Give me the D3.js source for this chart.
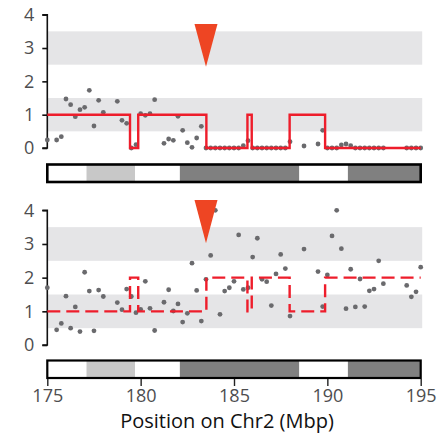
<!DOCTYPE html>
<html>
<head>
<meta charset="utf-8">
<script src="https://cdn.jsdelivr.net/npm/d3@7"></script>
<style>
  body { margin: 0; background: #fff; }
  svg { display: block; font-family: "Open Sans", "Noto Sans", sans-serif; }
</style>
</head>
<body>
<svg></svg>
<script>
// marker positions (Mbp) - on a 0.25 Mbp grid, some missing
let positions = [175.0, 175.5, 175.75, 176.0, 176.25, 176.5, 176.75, 177.0, 177.25, 177.5, 177.75, 178.0,
  178.75, 179.0, 179.25, 179.5, 179.75, 180.0, 180.25, 180.5, 180.75,
  181.25, 181.5, 181.75, 182.0, 182.25, 182.5, 182.75, 183.0, 183.25,
  183.5, 183.75, 184.0, 184.25, 184.5, 184.75, 185.0, 185.25, 185.5, 185.75,
  186.0, 186.25, 186.5, 186.75, 187.0, 187.25, 187.5, 187.75, 188.0,
  188.75, 189.5, 189.75, 190.0, 190.25, 190.5, 190.75, 191.0, 191.25, 191.5, 191.75,
  192.0, 192.25, 192.5, 192.75, 193.0, 194.25, 194.5, 194.75, 195.0]

let topValues = [0.24, 0.24, 0.34, 1.47, 1.30, 0.94, 1.15, 1.22, 1.73, 0.66, 1.43, 1.07,
  1.40, 0.83, 0.74, 0.0, 0.10, 1.03, 0.98, 1.03, 1.45,
  0.14, 0.27, 0.23, 0.95, 0.53, 0.16, 0.02, 0.30, 0.65,
  0, 0, 0, 0, 0, 0, 0, 0, 0.07, 0.22,
  0, 0, 0, 0, 0, 0, 0, 0, 0.19,
  0.06, 0.12, 0.53, 0, 0, 0, 0.09, 0.12, 0.07, 0, 0,
  0, 0, 0, 0, 0, 0, 0, 0, 0]

let bottomValues = [1.70, 0.45, 0.64, 1.45, 0.50, 1.13, 0.40, 2.16, 1.60, 0.42, 1.63, 1.44,
  1.26, 1.05, 1.66, 1.44, 0.96, 1.06, 1.89, 1.09, 0.43,
  1.27, 1.64, 1.01, 1.22, 0.68, 0.94, 2.43, 1.62, 0.71,
  1.95, 2.66, 4.0, 0.91, 1.60, 1.70, 1.89, 3.27, 1.65, 1.70,
  2.61, 3.17, 1.95, 1.88, 1.17, 2.11, 2.69, 2.27, 0.86,
  2.85, 2.18, 1.14, 2.08, 3.24, 4.0, 2.86, 1.08, 2.25, 1.13, 1.96,
  1.14, 1.61, 1.66, 2.50, 1.82, 1.77, 1.43, 1.58, 2.31]

// segmented copy number calls
let segBreaks = [175, 179.43, 179.87, 183.52, 185.72, 185.95, 187.98, 189.88, 195]
let topSegments = [1, 0, 1, 0, 1, 0, 1, 0]
let bottomSegments = [1, 2, 1, 2, 1, 2, 1, 2]

// chromosome bands (ideogram)
let bandStarts = [175, 177.1, 179.7, 182.1, 188.5, 191.1]
let bandEnds = [177.1, 179.7, 182.1, 188.5, 191.1, 195]
let bandShades = ['#ffffff', '#c8c8c8', '#ffffff', '#808080', '#ffffff', '#808080']

let greyZones = [[0.5, 1.5], [2.5, 3.5]]
let markerPos = 183.5
let yTicks = [0, 1, 2, 3, 4]
let xTicks = [175, 180, 185, 190, 195]

let width = 441
let height = 438

let svg = d3.select('svg').attr('width', width).attr('height', height)

let xScale = d3.scaleLinear().domain([175, 195]).range([47.3, 420.7])

let panels = [
  { values: topValues, segs: topSegments, y0: 148, y4: 14.7, dashed: false, tri: [24, 66.7], ideo: [164.5, 182] },
  { values: bottomValues, segs: bottomSegments, y0: 345, y4: 210.3, dashed: true, tri: [200, 243.3], ideo: [360.5, 378] }
]

panels.forEach((p, pi) => {
  let yScale = d3.scaleLinear().domain([0, 4]).range([p.y0, p.y4])
  let g = svg.append('g')

  // grey background bands
  g.selectAll('rect.zone')
    .data(greyZones)
    .enter()
    .append('rect')
    .attr('class', 'zone')
    .attr('x', xScale(175))
    .attr('width', xScale(195) - xScale(175) + 1.5)
    .attr('y', d => yScale(d[1]))
    .attr('height', d => yScale(d[0]) - yScale(d[1]))
    .attr('fill', '#e5e5e7')

  // y axis
  let yAxis = d3.axisLeft(yScale).tickValues(yTicks).tickSize(5).tickPadding(8).tickFormat(d3.format('d'))
  let ax = g.append('g')
    .attr('transform', 'translate(' + xScale(175) + ',0)')
    .call(yAxis)
  ax.select('.domain').attr('stroke', '#111').attr('stroke-width', 1.6)
    .attr('d', 'M-5,' + p.y4 + 'H0V' + p.y0 + 'H-5')
  ax.selectAll('.tick line').attr('stroke', '#111').attr('stroke-width', 1.6)
  ax.selectAll('.tick text')
    .attr('font-size', 18)
    .attr('fill', '#4d4d4f')
    .attr('font-family', '"Open Sans", sans-serif')

  // points
  g.selectAll('circle')
    .data(positions.map((x, i) => [x, p.values[i]]))
    .enter()
    .append('circle')
    .attr('cx', d => xScale(d[0]))
    .attr('cy', d => yScale(d[1]))
    .attr('r', 2.4)
    .attr('fill', '#6a6a6d')

  // segment step line
  let stepPts = segBreaks.map((b, i) => [b, p.segs[Math.min(i, p.segs.length - 1)]])
  let line = d3.line()
    .x(d => xScale(d[0]))
    .y(d => yScale(d[1]))
    .curve(d3.curveStepAfter)
  g.append('path')
    .attr('d', line(stepPts))
    .attr('fill', 'none')
    .attr('stroke', '#ee1d2b')
    .attr('stroke-width', 2.4)
    .attr('stroke-dasharray', p.dashed ? '13,6' : null)

  // marker triangle
  let tx = xScale(markerPos)
  g.append('path')
    .attr('d', 'M' + (tx - 11.5) + ',' + p.tri[0] + 'L' + (tx + 11.5) + ',' + p.tri[0] + 'L' + tx + ',' + p.tri[1] + 'Z')
    .attr('fill', '#ee4523')

  // ideogram
  let ig = svg.append('g')
  ig.selectAll('rect')
    .data(bandStarts.map((s, i) => [s, bandEnds[i], bandShades[i]]))
    .enter()
    .append('rect')
    .attr('x', d => xScale(d[0]))
    .attr('width', d => xScale(d[1]) - xScale(d[0]))
    .attr('y', p.ideo[0])
    .attr('height', p.ideo[1] - p.ideo[0])
    .attr('fill', d => d[2])
  ig.append('rect')
    .attr('x', xScale(175))
    .attr('width', xScale(195) - xScale(175))
    .attr('y', p.ideo[0])
    .attr('height', p.ideo[1] - p.ideo[0])
    .attr('fill', 'none')
    .attr('stroke', '#000')
    .attr('stroke-width', pi === 0 ? 2.6 : 2.2)

  if (pi === 1) {
    let xAxis = d3.axisBottom(xScale).tickValues(xTicks).tickSize(7).tickPadding(3).tickFormat(d3.format('d'))
    let xa = svg.append('g')
      .attr('transform', 'translate(0,' + (p.ideo[1] + 1) + ')')
      .call(xAxis)
    xa.select('.domain').remove()
    xa.selectAll('.tick line').attr('stroke', '#222').attr('stroke-width', 1.4)
    xa.selectAll('.tick text')
      .attr('font-size', 18)
      .attr('fill', '#4d4d4f')
      .attr('font-family', '"Open Sans", sans-serif')
  }
})

svg.append('text')
  .attr('x', 227)
  .attr('y', 428)
  .attr('text-anchor', 'middle')
  .attr('font-size', 20)
  .attr('fill', '#111')
  .text('Position on Chr2 (Mbp)')
</script>
</body>
</html>
